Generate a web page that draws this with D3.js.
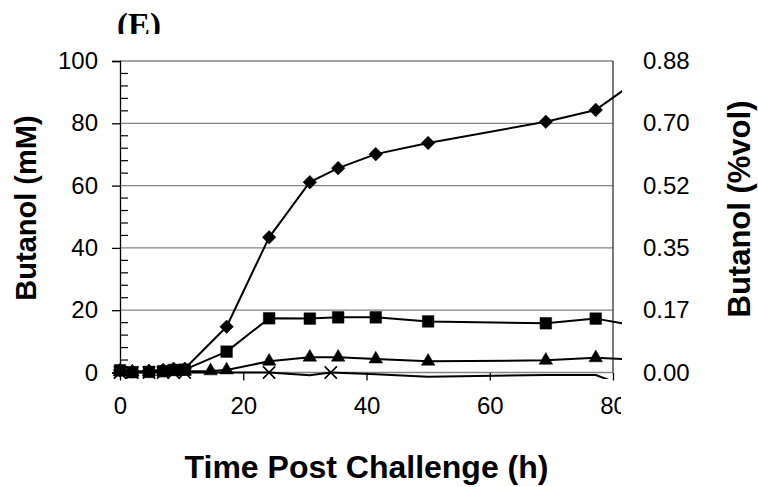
<!DOCTYPE html>
<html>
<head>
<meta charset="utf-8">
<script src="https://cdn.jsdelivr.net/npm/d3@7"></script>
<style>
  body { margin: 0; background: #fff; }
  svg { display: block; font-family: "Liberation Sans", Arial, sans-serif; }
</style>
</head>
<body>
<svg id="chart" width="758" height="487"></svg>
<script>
// Butanol vs time post challenge, panel (E)

const panelLabel = "(E)";
const xTicks = [0, 20, 40, 60, 80];
const yTicks = [0, 20, 40, 60, 80, 100];
const rightTickLabels = ["0.00", "0.17", "0.35", "0.52", "0.70", "0.88"];

// sampling times (h) and butanol (mM)
const timesA = [0, 2, 4.7, 7, 8.7, 10.5, 17.3, 24.2, 30.8, 35.4, 41.5, 50, 69.1, 77.2, 96];
const diamondValues = [0.7, 0.3, 0.5, 0.8, 1.2, 1.2, 14.7, 43.4, 61.1, 65.6, 70.1, 73.7, 80.5, 84.3, 110.7];
const squareValues = [0.7, 0.1, 0.2, 0.4, 0.8, 0.9, 6.7, 17.4, 17.3, 17.7, 17.7, 16.4, 15.8, 17.3, 10.8];

const timesB = [0, 2, 4.7, 7, 8.7, 10.5, 14.7, 17.3, 24.2, 30.8, 35.4, 41.5, 50, 69.1, 77.2, 96];
const triangleValues = [0.2, 0.1, 0.2, 0.3, 0.4, 0.4, 0.5, 0.8, 3.6, 4.9, 4.9, 4.3, 3.6, 3.9, 4.7, 3.1];

const timesC = [0, 2, 4.7, 7, 8.7, 10.5, 24.2, 30.8, 34.2, 41.5, 50, 69.1, 77.2, 96];
const crossValues = [0, 0, 0, 0, 0, 0, 0, -0.9, 0, -0.6, -1.4, -0.8, -0.8, -15];

const svg = d3.select("#chart");
const margin = { top: 61, left: 120 };
const plotW = 493, plotH = 311.5;

const x = d3.scaleLinear().domain([0, 80]).range([margin.left, margin.left + plotW]);
const y = d3.scaleLinear().domain([0, 100]).range([margin.top + plotH, margin.top]);

const defs = svg.append("defs");
defs.append("clipPath").attr("id", "lineClip")
  .append("rect").attr("x", 0).attr("y", 0).attr("width", x(80) + 9).attr("height", y(0) + 6.5);
defs.append("clipPath").attr("id", "xLabelClip")
  .append("rect").attr("x", 0).attr("y", 0).attr("width", x(80) + 8).attr("height", 120);
defs.append("clipPath").attr("id", "panelClip")
  .append("rect").attr("x", 0).attr("y", 0).attr("width", 758).attr("height", 34);

// panel label, cut off at the bottom like the source
svg.append("text")
  .attr("clip-path", "url(#panelClip)")
  .attr("x", 117)
  .attr("y", 36)
  .style("font-family", "'Liberation Serif', 'Times New Roman', serif")
  .style("font-weight", "bold")
  .style("font-size", "33px")
  .text(panelLabel);

// gridlines
svg.append("g")
  .selectAll("line")
  .data(yTicks)
  .enter()
  .append("line")
  .attr("x1", x(0))
  .attr("x2", x(80))
  .attr("y1", d => y(d))
  .attr("y2", d => y(d))
  .attr("stroke", "#858585")
  .attr("stroke-width", 1.3);

// right border of the plot area
svg.append("line")
  .attr("x1", x(80)).attr("x2", x(80))
  .attr("y1", y(100)).attr("y2", y(0))
  .attr("stroke", "#222")
  .attr("stroke-width", 1.2);

// left axis: major ticks outward, minor ticks inward
const yAxis = svg.append("g")
  .attr("transform", `translate(${x(0)},0)`)
  .call(d3.axisLeft(y).tickValues(yTicks).tickSize(8).tickPadding(14));
yAxis.select(".domain").attr("stroke", "#000").attr("stroke-width", 1.3);
yAxis.selectAll(".tick line").attr("stroke", "#000").attr("stroke-width", 1.3);
yAxis.selectAll("text").style("font-size", "24px").style("font-family", "'Liberation Sans', Arial, sans-serif");

const minorTicks = d3.range(0, 101, 4).filter(d => d % 20 !== 0);
svg.append("g")
  .selectAll("line")
  .data(minorTicks)
  .enter()
  .append("line")
  .attr("x1", x(0))
  .attr("x2", x(0) + 8)
  .attr("y1", d => y(d))
  .attr("y2", d => y(d))
  .attr("stroke", "#000")
  .attr("stroke-width", 1.2);

// bottom axis, last label cut at the plot edge as in the source
const xAxis = svg.append("g")
  .attr("transform", `translate(0,${y(0)})`)
  .attr("clip-path", "url(#xLabelClip)")
  .call(d3.axisBottom(x).tickValues(xTicks).tickSize(8).tickPadding(16));
xAxis.select(".domain").remove();
xAxis.selectAll(".tick line").attr("stroke", "#000").attr("stroke-width", 1.3);
xAxis.selectAll("text")
  .style("font-size", "24px")
  .style("font-family", "'Liberation Sans', Arial, sans-serif");

// right axis (%vol), labels only
const rAxis = svg.append("g")
  .attr("transform", `translate(${x(80)},0)`)
  .call(d3.axisRight(y).tickValues(yTicks).tickSize(0).tickPadding(30)
    .tickFormat((d, i) => rightTickLabels[i]));
rAxis.select(".domain").remove();
rAxis.selectAll("text").style("font-size", "24px").style("font-family", "'Liberation Sans', Arial, sans-serif");

// axis titles
svg.append("text")
  .attr("transform", "translate(36,208) rotate(-90)")
  .style("text-anchor", "middle")
  .style("font-size", "29px")
  .style("font-weight", "bold")
  .text("Butanol (mM)");

svg.append("text")
  .attr("transform", "translate(750,209) rotate(-90)")
  .style("text-anchor", "middle")
  .style("font-size", "31px")
  .style("font-weight", "bold")
  .text("Butanol (%vol)");

svg.append("text")
  .attr("x", (x(0) + x(80)) / 2)
  .attr("y", 478)
  .style("text-anchor", "middle")
  .style("font-size", "32px")
  .style("font-weight", "bold")
  .text("Time Post Challenge (h)");

// series
const symbolTimes = {
  draw(context, size) {
    const r = Math.sqrt(size) / 2;
    context.moveTo(-r, -r);
    context.lineTo(r, r);
    context.moveTo(r, -r);
    context.lineTo(-r, r);
  }
};

const series = [
  { times: timesA, values: diamondValues, type: d3.symbolSquare, size: 92, rotate: 45, fill: true },
  { times: timesA, values: squareValues, type: d3.symbolSquare, size: 135, rotate: 0, fill: true },
  { times: timesB, values: triangleValues, type: d3.symbolTriangle, size: 80, rotate: 0, fill: true },
  { times: timesC, values: crossValues, type: symbolTimes, size: 150, rotate: 0, fill: false }
];

const line = d3.line()
  .x(d => x(d.t))
  .y(d => y(d.v));

series.forEach(s => {
  const pts = s.times.map((t, i) => ({ t: t, v: s.values[i] }));

  svg.append("path")
    .datum(pts)
    .attr("clip-path", "url(#lineClip)")
    .attr("d", line)
    .attr("fill", "none")
    .attr("stroke", "#000")
    .attr("stroke-width", 2)
    .attr("stroke-linejoin", "round");

  // markers only where the point sits inside the axis range
  svg.append("g")
    .selectAll("path")
    .data(pts.filter(d => d.t <= 80 && d.v >= 0))
    .enter()
    .append("path")
    .attr("transform", d => `translate(${x(d.t)},${y(d.v)}) rotate(${s.rotate})`)
    .attr("d", d3.symbol().type(s.type).size(s.size))
    .attr("fill", s.fill ? "#000" : "none")
    .attr("stroke", "#000")
    .attr("stroke-width", s.fill ? 0.5 : 1.6);
});
</script>
</body>
</html>
